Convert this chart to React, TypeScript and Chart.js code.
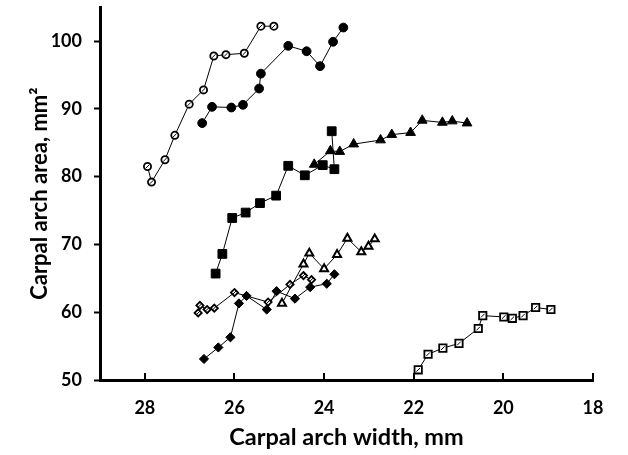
import React, { useEffect, useRef } from 'react';
import { Chart, registerables } from 'chart.js';
Chart.register(...registerables);

const xTicks = [28, 26, 24, 22, 20, 18];
const yTicks = [50, 60, 70, 80, 90, 100];

const openCircleX = [27.94, 27.85, 27.55, 27.33, 27.01, 26.69, 26.46, 26.19, 25.78, 25.41, 25.12];
const openCircleY = [81.5, 79.2, 82.5, 86.1, 90.7, 92.8, 97.8, 98.0, 98.2, 102.2, 102.2];

const filledCircleX = [26.72, 26.5, 26.07, 25.81, 25.45, 25.41, 24.8, 24.39, 24.09, 23.8, 23.57];
const filledCircleY = [87.9, 90.3, 90.2, 90.6, 93.0, 95.2, 99.3, 98.5, 96.3, 99.9, 102.0];

const filledSquareX = [26.42, 26.27, 26.05, 25.75, 25.43, 25.07, 24.8, 24.43, 24.03, 23.77, 23.83];
const filledSquareY = [65.7, 68.6, 73.9, 74.7, 76.1, 77.2, 81.6, 80.2, 81.7, 81.1, 86.7];

const filledTriangleX = [24.22, 23.86, 23.65, 23.34, 22.74, 22.49, 22.07, 21.81, 21.36, 21.14, 20.81];
const filledTriangleY = [81.8, 83.8, 83.7, 84.8, 85.4, 86.2, 86.5, 88.3, 88.0, 88.2, 87.9];

const openTriangleX = [24.94, 24.46, 24.33, 24.0, 23.71, 23.48, 23.17, 23.01, 22.87];
const openTriangleY = [61.3, 67.1, 68.7, 66.4, 68.5, 70.9, 68.9, 69.7, 70.8];

const openDiamondX = [26.81, 26.77, 26.61, 26.45, 26.0, 25.25, 24.76, 24.46, 24.28];
const openDiamondY = [59.9, 61.0, 60.4, 60.6, 62.9, 61.5, 64.1, 65.4, 64.8];

const filledDiamondX = [26.68, 26.36, 26.09, 25.9, 25.73, 25.28, 25.06, 24.65, 24.31, 23.94, 23.77];
const filledDiamondY = [53.1, 54.8, 56.3, 61.3, 62.4, 60.4, 63.1, 62.0, 63.7, 64.2, 65.6];

const openSquareX = [21.9, 21.68, 21.35, 20.99, 20.56, 20.46, 19.99, 19.8, 19.56, 19.28, 18.94];
const openSquareY = [51.5, 53.8, 54.7, 55.4, 57.6, 59.5, 59.3, 59.1, 59.5, 60.7, 60.4];

const FONT = 'Lato, "Open Sans", "DejaVu Sans", sans-serif';

function pts(xs: number[], ys: number[]) {
  return xs.map((x, i) => ({ x, y: ys[i] }));
}

type S = { label: string; xs: number[]; ys: number[]; style: string; r: number; open: boolean; slash: boolean; bw: number };

const series: S[] = [
  { label: 'Open circles', xs: openCircleX, ys: openCircleY, style: 'circle', r: 3.6, open: true, slash: true, bw: 1.8 },
  { label: 'Filled circles', xs: filledCircleX, ys: filledCircleY, style: 'circle', r: 4.4, open: false, slash: false, bw: 1 },
  { label: 'Filled squares', xs: filledSquareX, ys: filledSquareY, style: 'rect', r: 6.2, open: false, slash: false, bw: 1 },
  { label: 'Filled triangles', xs: filledTriangleX, ys: filledTriangleY, style: 'triangle', r: 5.6, open: false, slash: false, bw: 1 },
  { label: 'Open triangles', xs: openTriangleX, ys: openTriangleY, style: 'triangle', r: 4.6, open: true, slash: false, bw: 2 },
  { label: 'Open diamonds', xs: openDiamondX, ys: openDiamondY, style: 'rectRot', r: 3.6, open: true, slash: true, bw: 1.8 },
  { label: 'Filled diamonds', xs: filledDiamondX, ys: filledDiamondY, style: 'rectRot', r: 4.6, open: false, slash: false, bw: 1 },
  { label: 'Open squares', xs: openSquareX, ys: openSquareY, style: 'rect', r: 5.2, open: true, slash: true, bw: 1.8 },
];

const customDraw = {
  id: 'customDraw',
  afterDatasetsDraw(chart: any) {
    const ctx = chart.ctx;
    ctx.save();
    ctx.strokeStyle = '#000';
    ctx.lineWidth = 1;
    chart.data.datasets.forEach((ds: any, i: number) => {
      if (!ds.slash) return;
      const meta = chart.getDatasetMeta(i);
      meta.data.forEach((p: any) => {
        ctx.beginPath();
        ctx.moveTo(p.x - 1.8, p.y + 1.8);
        ctx.lineTo(p.x + 1.8, p.y - 1.8);
        ctx.stroke();
      });
    });
    ctx.restore();
  },
  afterDraw(chart: any) {
    const ctx = chart.ctx;
    const xs = chart.scales.x;
    const bottom = chart.chartArea.bottom;
    ctx.save();
    ctx.strokeStyle = '#000';
    ctx.lineWidth = 2;
    xTicks.forEach((v) => {
      const px = Math.round(xs.getPixelForValue(v));
      ctx.beginPath();
      ctx.moveTo(px, bottom);
      ctx.lineTo(px, bottom - 7);
      ctx.stroke();
    });
    ctx.restore();
  },
};

export default function App() {
  const ref = useRef<HTMLCanvasElement | null>(null);
  useEffect(() => {
    if (!ref.current) return;
    const chart = new Chart(ref.current, {
      type: 'line',
      data: {
        datasets: series.map((s) => ({
          label: s.label,
          data: pts(s.xs, s.ys),
          borderColor: '#000',
          borderWidth: 1,
          backgroundColor: s.open ? '#fff' : '#000',
          pointStyle: s.style as any,
          pointRadius: s.r,
          pointHoverRadius: s.r,
          pointBorderWidth: s.bw,
          pointBorderColor: '#000',
          pointBackgroundColor: s.open ? '#fff' : '#000',
          fill: false,
          tension: 0,
          slash: s.slash,
        })) as any,
      },
      options: {
        animation: false,
        responsive: false,
        layout: { padding: { top: 3, right: 35, left: 0, bottom: 0 } },
        plugins: { legend: { display: false }, tooltip: { enabled: false } },
        scales: {
          x: {
            type: 'linear',
            reverse: true,
            min: 18,
            max: 29,
            afterBuildTicks: (scale: any) => {
              scale.ticks = xTicks.map((v) => ({ value: v }));
            },
            afterFit: (scale: any) => {
              scale.height = 75;
              scale.paddingLeft = 0;
              scale.paddingRight = 0;
            },
            grid: { display: true, drawOnChartArea: false, drawTicks: false },
            border: { display: true, color: '#000', width: 3 },
            ticks: {
              color: '#000',
              padding: 17,
              font: { family: FONT, size: 18, weight: 'bold' },
              maxRotation: 0,
            },
            title: {
              display: true,
              text: 'Carpal arch width, mm',
              color: '#000',
              font: { family: FONT, size: 23.5, weight: 'bold' },
              padding: { top: 0, bottom: 3 },
            },
          },
          y: {
            type: 'linear',
            min: 50,
            max: 105,
            afterBuildTicks: (scale: any) => {
              scale.ticks = yTicks.map((v) => ({ value: v }));
            },
            afterFit: (scale: any) => {
              scale.width = 100;
              scale.paddingTop = 0;
              scale.paddingBottom = 0;
            },
            grid: { display: true, drawOnChartArea: false, drawTicks: true, tickLength: 6, tickWidth: 2, tickColor: '#000' },
            border: { display: true, color: '#000', width: 3 },
            ticks: {
              color: '#000',
              padding: 12,
              font: { family: FONT, size: 18, weight: 'bold' },
            },
            title: {
              display: true,
              text: 'Carpal arch area, mm²',
              color: '#000',
              font: { family: FONT, size: 22, weight: 'bold' },
              padding: { top: 27, bottom: 0 },
            },
          },
        },
      },
      plugins: [customDraw],
    });
    return () => chart.destroy();
  }, []);
  return (
    <div style={{ position: 'absolute', left: 0, top: 0, width: 628, height: 455, background: '#fff' }}>
      <canvas ref={ref} width={628} height={455} style={{ display: 'block' }} />
    </div>
  );
}
